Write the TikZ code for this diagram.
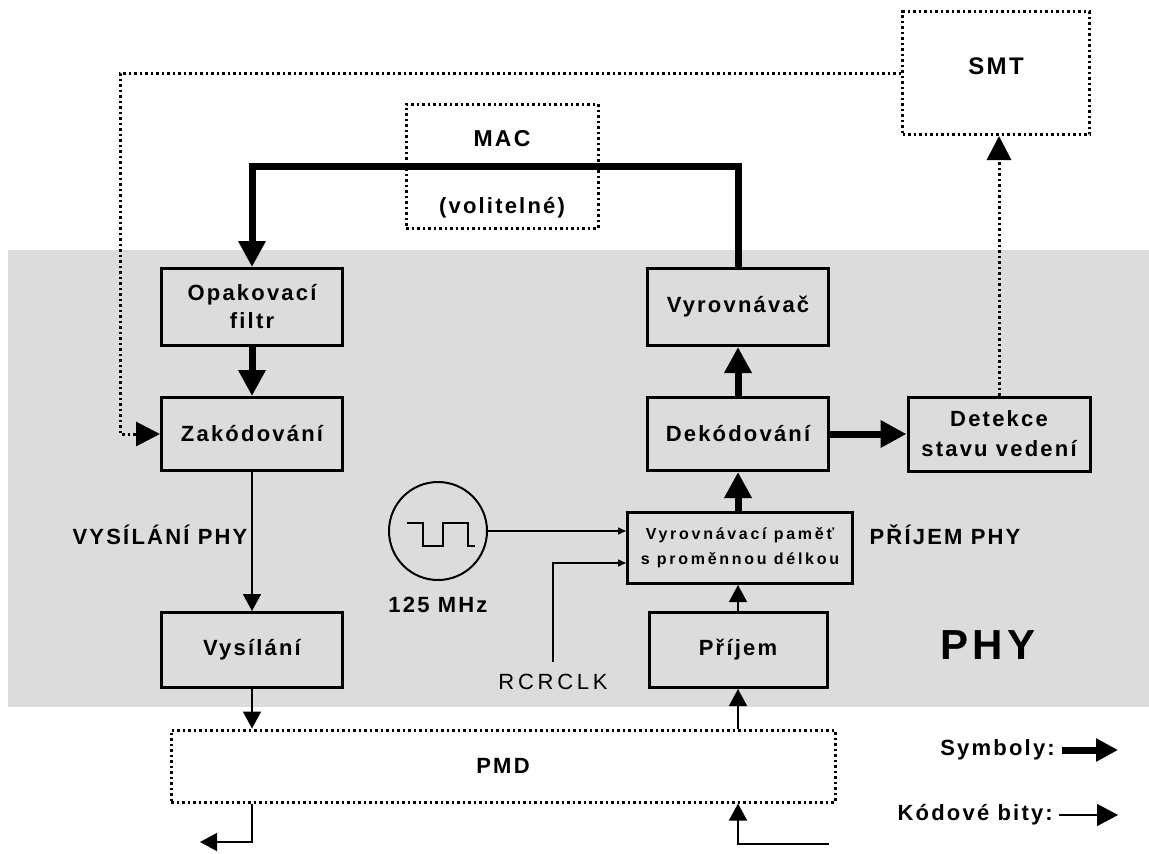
\documentclass[tikz,border=0pt]{standalone}
\usepackage{fontspec}
\setmainfont{Liberation Sans}[LetterSpace=10]
\usetikzlibrary{arrows.meta,calc}
\definecolor{phygray}{RGB}{220,220,220}
\newcommand{\lblfont}{\fontsize{22}{28}\selectfont\bfseries}
\newcommand{\malyfont}{\fontsize{16}{25}\selectfont\bfseries\addfontfeatures{LetterSpace=17}}

\begin{document}
\begin{tikzpicture}[x=1pt,y=-1pt,
   blok/.style={draw, line width=3pt, minimum width=181pt, minimum height=75pt, inner sep=0pt, align=center, font=\lblfont},
   tecky/.style={draw, line width=3pt, dash pattern=on 2.5pt off 3pt, inner sep=0pt},
   popis/.style={inner sep=0pt, font=\lblfont},
   symb/.style={line width=7pt, -{Triangle[length=26pt,width=26pt]}},
   bity/.style={line width=1.5pt, -{Triangle[length=17pt,width=18pt]}},
   malebity/.style={line width=1.5pt, -{Triangle[length=8pt,width=7pt]}},
   rizeni/.style={line width=3pt, dash pattern=on 2.5pt off 3pt, -{Triangle[length=24pt,width=24pt]}}]
   \useasboundingbox (0,0) rectangle (1149,854);
   \fill[white] (0,0) rectangle (1149,854);
   % PHY vrstva
   \fill[phygray] (8,250) rectangle (1149,707);
   \node[popis, font=\fontsize{42}{46}\selectfont\bfseries] (phy) at (988,645) {PHY};
   \node[popis] (vysphy) at (160,535) {VYSÍLÁNÍ PHY};
   \node[popis] (prijphy) at (945,535) {PŘÍJEM PHY};

   % bloky
   \node[tecky, minimum width=187pt, minimum height=123pt] (smt) at (996,73) {};
   \node[popis, font=\fontsize{24}{28}\selectfont\bfseries] (smttxt) at (996,66) {SMT};
   \node[tecky, minimum width=192pt, minimum height=124pt] (mac) at (502,166) {};
   \node[popis, font=\fontsize{23}{28}\selectfont\bfseries] (mactxt) at (502,139) {MAC};
   \node[popis] (voltxt) at (502,208) {(volitelné)};

   \node[blok, minimum height=77pt] (opak) at (252,307) {Opakovací\\filtr};
   \node[blok, minimum height=73pt] (zakod) at (252,434) {Zakódování};
   \node[blok] (vysil) at (252,650) {Vysílání};
   \node[blok, minimum height=77pt] (vyrov) at (738,307) {Vyrovnávač};
   \node[blok, minimum height=73pt] (dekod) at (738,434) {Dekódování};
   \node[blok, minimum width=182pt, minimum height=74pt, font=\fontsize{22}{30}\selectfont\bfseries] (detek) at (999,434) {Detekce\\stavu vedení};
   \node[blok, minimum width=225pt, minimum height=71pt, font=\malyfont] (pamet) at (740,548) {Vyrovnávací paměť\\s proměnnou délkou};
   \node[blok, minimum width=178pt] (prijem) at (738,650) {Příjem};
   \node[tecky, minimum width=664pt, minimum height=72pt, font=\lblfont] (pmd) at (503,766) {PMD};

   % hodiny
   \node[circle, draw, line width=2pt, minimum size=98pt, inner sep=0pt] (clock) at (438,531) {};
   \draw[line width=1.5pt] (407,523) -- (423,523) -- (423,546) -- (443,546) -- (443,523) -- (468,523) -- (468,546) -- (475,546);
   \node[popis] (mhz) at (438,605) {125 MHz};
   \node[popis, font=\fontsize{22}{26}\selectfont\addfontfeatures{LetterSpace=17}] (rcr) at (553,682) {RCRCLK};

   % symboly
   \draw[symb] (vyrov.north) |- (mac.center) -| (opak.north);
   \draw[symb] (opak.south) -- (zakod.north);
   \draw[symb] (dekod.north) -- (vyrov.south);
   \draw[symb] (pamet.north -| dekod.south) -- (dekod.south);
   \draw[symb] (dekod.east) -- (detek.west);

   % kodove bity
   \draw[bity] (zakod.south) -- (vysil.north);
   \draw[bity] (vysil.south) -- (vysil.south |- pmd.north);
   \coordinate (ven) at (200,842);
   \draw[bity] (vysil.south |- pmd.south) |- (ven);
   \coordinate (vstup) at (829,844);
   \draw[bity] (vstup) -| (prijem.south |- pmd.south);
   \draw[bity] (prijem.south |- pmd.north) -- (prijem.south);
   \draw[bity] (prijem.north) -- (prijem.north |- pamet.south);
   \draw[malebity] (clock.east) -- (clock.east -| pamet.west);
   \draw[malebity] ([yshift=12pt]rcr.north) |- ($(pamet.west)+(0,15)$);

   % rizeni SMT
   \draw[rizeni] (smt.west) -| ([xshift=-40pt]zakod.west) -- (zakod.west);
   \draw[rizeni] (detek.north) -- (detek.north |- smt.south);

   % legenda
   \node[popis, anchor=east] (symleg) at (1055,750) {Symboly:};
   \draw[symb, -{Triangle[length=22pt,width=22pt]}] ([xshift=7pt]symleg.east) -- ++(56,0);
   \node[popis, anchor=east] (bitleg) at (1053,815) {Kódové bity:};
   \draw[bity, -{Triangle[length=21pt,width=22pt]}] ([xshift=6pt]bitleg.east) -- ++(59,0);
\end{tikzpicture}
\end{document}
